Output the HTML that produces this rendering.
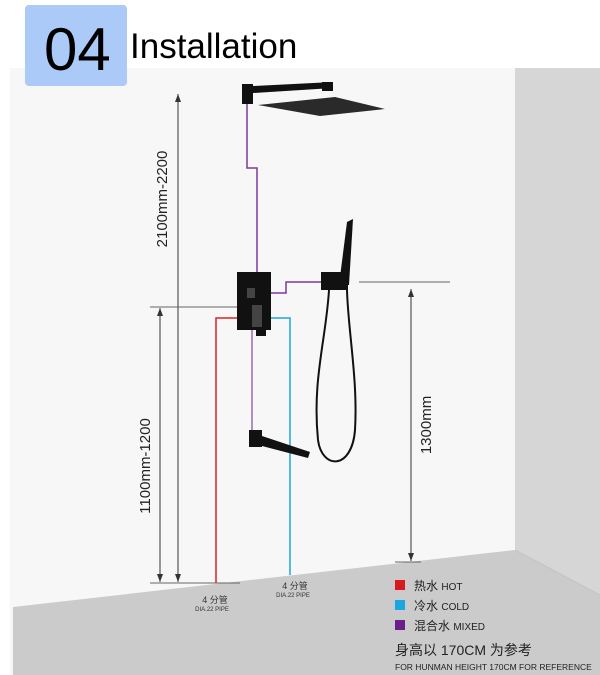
<!DOCTYPE html>
<html><head><meta charset="utf-8"><style>
body{margin:0;width:600px;height:675px;overflow:hidden;background:#fff;font-family:"Liberation Sans","Noto Sans CJK SC",sans-serif}
</style></head><body>
<svg width="600" height="675" viewBox="0 0 600 675" xmlns="http://www.w3.org/2000/svg" style="position:absolute;left:0;top:0">
<defs><marker id="a" markerWidth="8" markerHeight="6" refX="8" refY="3" orient="auto-start-reverse" markerUnits="userSpaceOnUse"><path d="M0,0 L8,3 L0,6 Z" fill="#333"/></marker></defs>
<rect x="10" y="68" width="505" height="607" fill="#f7f7f7"/>
<rect x="515" y="68" width="85" height="607" fill="#d6d6d6"/>
<polygon points="13,607 515,550 600,595 600,675 13,675" fill="#cbcbcb"/>
<line x1="515" y1="550" x2="600" y2="595" stroke="#c4c4c4"/>
<rect x="25" y="5" width="102" height="81" rx="4" fill="#abcaf8"/>
<text x="44" y="70" font-size="60" fill="#000">04</text>
<text x="130" y="58" font-size="35" fill="#000">Installation</text>
<g stroke="#333" stroke-width="1" fill="none">
<line x1="178" y1="94" x2="178" y2="582" marker-start="url(#a)" marker-end="url(#a)"/>
<line x1="160" y1="308" x2="160" y2="582" marker-start="url(#a)" marker-end="url(#a)"/>
<line x1="150" y1="307" x2="238" y2="307" stroke="#666"/>
<line x1="150" y1="583" x2="240" y2="583" stroke="#666"/>
<line x1="359" y1="282" x2="450" y2="282" stroke="#666"/>
<line x1="411" y1="289" x2="411" y2="561" marker-start="url(#a)" marker-end="url(#a)"/>
<line x1="395" y1="562" x2="421" y2="562" stroke="#666"/>
</g>
<text transform="translate(167,199) rotate(-90)" text-anchor="middle" font-size="15" fill="#222">2100mm-2200</text>
<text transform="translate(150,466) rotate(-90)" text-anchor="middle" font-size="15" fill="#222">1100mm-1200</text>
<text transform="translate(431,425) rotate(-90)" text-anchor="middle" font-size="15" fill="#222">1300mm</text>
<g fill="none" stroke-width="1.5">
<polyline points="247,104 247,168 257,168 257,272" stroke="#7b3a9a"/>
<polyline points="271,293 286,293 286,282 321,282" stroke="#7b3a9a"/>
<line x1="252" y1="330" x2="252" y2="432" stroke="#9b6bb8"/>
<polyline points="237,318 216,318 216,583" stroke="#e02020"/>
<polyline points="271,318 290,318 290,575" stroke="#1aa6e0"/>
</g>
<g fill="#111">
<rect x="242" y="84" width="11" height="20"/>
<polygon points="253,86 333,82 333,88 253,93"/>
<rect x="322" y="82" width="11" height="9"/>
<polygon points="258,105 335,97 385,109 320,116" fill="#2a2a2a"/>
<rect x="237" y="272" width="34" height="58"/>
<rect x="256" y="328" width="10" height="8"/>
<rect x="321" y="272" width="27" height="18"/>
<polygon points="339,285 347,222 353,219 349,285"/>
<rect x="249" y="430" width="13" height="17"/>
<polygon points="262,436 310,452 308,458 262,446"/>
</g>
<g fill="#444"><rect x="247" y="288" width="8" height="10"/><rect x="252" y="305" width="10" height="22"/></g>
<path d="M329,290 C326,340 312,380 318,440 C322,470 352,470 355,430 C358,380 348,330 347,290" fill="none" stroke="#111" stroke-width="2"/>
<g fill="#333" text-anchor="middle">
<text x="215" y="603" font-size="9">4 分管</text>
<text x="212" y="611" font-size="6">DIA.22 PIPE</text>
<text x="295" y="589" font-size="9">4 分管</text>
<text x="293" y="597" font-size="6">DIA.22 PIPE</text>
</g>
<rect x="395" y="580" width="10" height="10" fill="#d71920"/>
<rect x="395" y="600" width="10" height="10" fill="#1aa6e0"/>
<rect x="395" y="620" width="10" height="10" fill="#6a1f8a"/>
<g fill="#222" font-size="12">
<text x="414" y="590">热水 <tspan font-size="10">HOT</tspan></text>
<text x="414" y="610">冷水 <tspan font-size="10">COLD</tspan></text>
<text x="414" y="630">混合水 <tspan font-size="10">MIXED</tspan></text>
<text x="395" y="655" font-size="14">身高以 170CM 为参考</text>
<text x="395" y="670" font-size="8.5">FOR HUNMAN HEIGHT 170CM FOR REFERENCE</text>
</g>
</svg>
</body></html>
